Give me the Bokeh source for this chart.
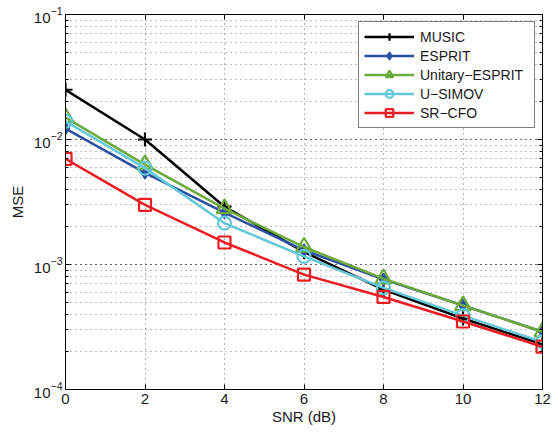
from bokeh.plotting import figure
from bokeh.models import LinearAxis, LogAxis, LogTicker, FixedTicker, Range1d, Legend
from bokeh.embed import file_html
from bokeh.resources import INLINE

snr = [0, 2, 4, 6, 8, 10, 12]
music = [0.025, 0.010, 0.0029, 0.00126, 0.00063, 0.00037, 0.00023]
esprit = [0.0122, 0.0054, 0.0026, 0.0013, 0.00076, 0.00047, 0.00029]
unitary = [0.015, 0.0063, 0.0028, 0.00138, 0.00077, 0.00047, 0.00029]
usimov = [0.014, 0.0059, 0.00214, 0.00116, 0.00065, 0.00039, 0.00024]
srcfo = [0.007, 0.003, 0.0015, 0.00083, 0.00055, 0.00035, 0.00022]
names = ["MUSIC", "ESPRIT", "Unitary\u2212ESPRIT", "U\u2212SIMOV", "SR\u2212CFO"]
x_ticks = [0, 2, 4, 6, 8, 10, 12]

FONT = "Liberation Sans"

p = figure(frame_width=477, frame_height=375, y_axis_type="log",
           x_range=Range1d(0, 12), y_range=Range1d(1e-4, 1e-1),
           output_backend="svg", toolbar_location=None,
           min_border_left=65, min_border_right=18, min_border_top=14, min_border_bottom=43)
p.outline_line_color = "black"
p.outline_line_width = 1

xt = FixedTicker(ticks=x_ticks)
yt = LogTicker(mantissas=[1], num_minor_ticks=10)

def style_axis(ax, labels=True):
    ax.axis_line_color = "black"
    ax.major_tick_in = 5
    ax.major_tick_out = 0
    ax.minor_tick_in = 3
    ax.minor_tick_out = 0
    ax.major_tick_line_color = "black"
    ax.minor_tick_line_color = "black"
    ax.major_label_text_font = FONT
    ax.major_label_text_font_size = "15px" if labels else "1px"
    ax.major_label_text_color = "#1a1a1a" if labels else None
    ax.major_label_standoff = 4 if labels else 0
    ax.axis_label_text_font = FONT
    ax.axis_label_text_font_size = "15px"
    ax.axis_label_text_font_style = "normal"
    ax.axis_label_text_color = "#1a1a1a"
    ax.axis_label_standoff = 2

p.xaxis.ticker = xt
p.yaxis.ticker = yt
p.xaxis.axis_label = "SNR (dB)"
p.yaxis.axis_label = "MSE"
style_axis(p.xaxis[0])
style_axis(p.yaxis[0])
p.xaxis.major_label_standoff = 4
p.xaxis.axis_label_standoff = 1
p.yaxis.major_label_standoff = 3
p.yaxis.axis_label_standoff = 5

top = LinearAxis(ticker=xt)
style_axis(top, labels=False)
p.add_layout(top, "above")
right = LogAxis(ticker=yt)
style_axis(right, labels=False)
p.add_layout(right, "right")

p.xgrid.ticker = xt
p.xgrid.grid_line_color = "black"
p.xgrid.grid_line_dash = "1 4"
p.xgrid.grid_line_alpha = 0.6
p.ygrid.ticker = yt
p.ygrid.grid_line_color = "black"
p.ygrid.grid_line_dash = "1 4"
p.ygrid.grid_line_alpha = 0.6
p.ygrid.minor_grid_line_color = "black"
p.ygrid.minor_grid_line_dash = "1 4"
p.ygrid.minor_grid_line_alpha = 0.5

colors = ["#000000", "#2C4FA3", "#6DAA3C", "#62C8DA", "#EC1C24"]
series = [music, esprit, unitary, usimov, srcfo]
markers = ["cross", "diamond", "triangle", "circle", "square"]
sizes = [14, 12, 16, 13, 12]
fills = [None, "#2C4FA3", None, None, None]

items = []
for name, ys, c, m, s, f in zip(names, series, colors, markers, sizes, fills):
    r1 = p.line(snr, ys, line_color=c, line_width=2.5)
    if f is None:
        r2 = p.scatter(snr, ys, marker=m, size=s, line_color=c, line_width=2.2, fill_color=None)
    else:
        r2 = p.scatter(snr, ys, marker=m, size=s, line_color=c, line_width=1.5, fill_color=f)
    items.append((name, [r1, r2]))

legend = Legend(items=items, location="top_right")
legend.border_line_color = "black"
legend.border_line_width = 1
legend.background_fill_color = "white"
legend.label_text_font = FONT
legend.label_text_font_size = "14px"
legend.label_text_color = "#1a1a1a"
legend.glyph_width = 50
legend.glyph_height = 19
legend.label_height = 19
legend.label_width = 109
legend.label_standoff = 6
legend.spacing = 0
legend.padding = 5
legend.margin = 7
p.add_layout(legend)

open("out.html", "w").write(file_html(p, INLINE))
